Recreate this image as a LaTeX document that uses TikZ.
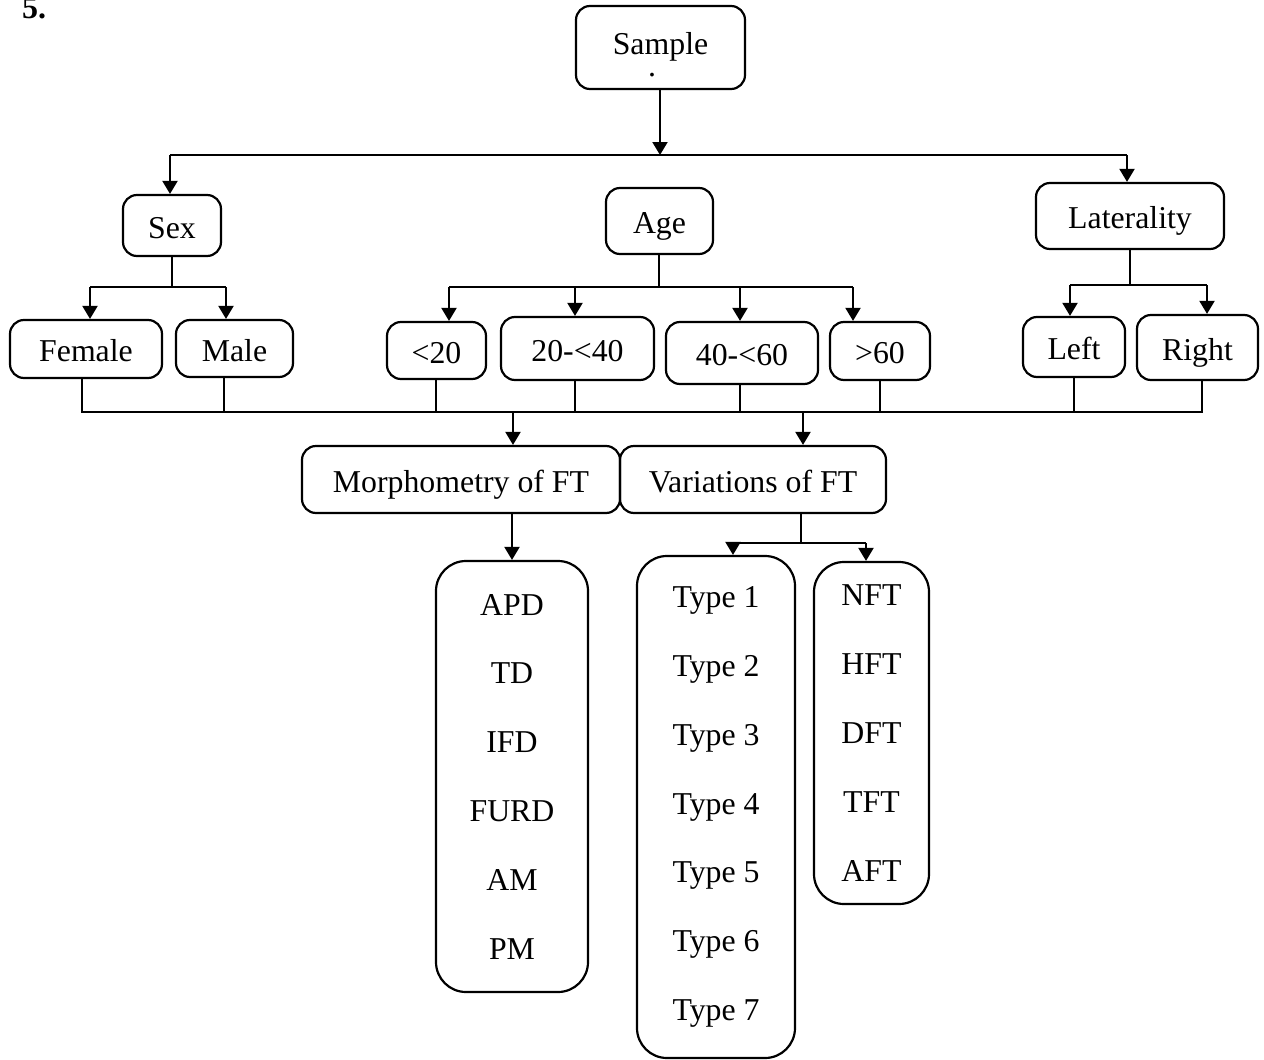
\documentclass[tikz,border=0pt]{standalone}
\usepackage{fontspec}
\setmainfont{Liberation Serif}
\usetikzlibrary{arrows.meta}
\begin{document}
\begin{tikzpicture}[x=1pt,y=-1pt,
  box/.style={draw, line width=2.2pt, rounded corners=14pt, inner sep=0pt, align=center,
     text height=25pt, text depth=0pt, font=\fontsize{31.8}{38}\selectfont},
  listbox/.style={draw, line width=2.2pt, rounded corners=30pt, inner sep=0pt, align=center,
     font=\fontsize{31.8}{68.8}\selectfont},
  ln/.style={line width=2pt},
  arr/.style={line width=2pt, -{Triangle[length=13pt,width=15pt]}}]
\useasboundingbox (0,0) rectangle (1264,1060);
\node[font=\bfseries\fontsize{32}{38}\selectfont, anchor=base west, inner sep=0pt] (num) at (22,19) {5.};
% top
\node[box, minimum width=169pt, minimum height=83pt, text height=22pt, text depth=9pt] (sample) at (660.5,47.5) {Sample};
\node[anchor=base, inner sep=0pt, font=\fontsize{31.8}{38}\selectfont] (sdot) at (652,76) {.};
\node[box, minimum width=98pt, minimum height=61pt] (sex) at (172,225.5) {Sex};
\node[box, minimum width=107pt, minimum height=66pt] (age) at (659.5,221) {Age};
\node[box, minimum width=188pt, minimum height=66pt] (lat) at (1130,216) {Laterality};
% second level
\node[box, minimum width=152pt, minimum height=58pt] (female) at (86,349) {Female};
\node[box, minimum width=117pt, minimum height=57pt] (male) at (234.5,348.5) {Male};
\node[box, minimum width=99pt, minimum height=57pt] (lt20) at (436.5,350.5) {<20};
\node[box, minimum width=153pt, minimum height=63pt] (a2040) at (577.5,348.5) {20-<40};
\node[box, minimum width=152pt, minimum height=62pt] (a4060) at (742,353) {40-<60};
\node[box, minimum width=100pt, minimum height=58pt] (gt60) at (880,351) {>60};
\node[box, minimum width=102pt, minimum height=60pt] (left) at (1074,347) {Left};
\node[box, minimum width=121pt, minimum height=65pt] (right) at (1197.5,347.5) {Right};
% third level
\node[box, minimum width=318pt, minimum height=67pt] (morph) at (461,479.5) {Morphometry of FT};
\node[box, minimum width=266pt, minimum height=67pt] (var) at (753,479.5) {Variations of FT};
% lists
\node[listbox, minimum width=152pt, minimum height=431pt] (apd) at (512,776.5)
  {APD\\TD\\IFD\\FURD\\AM\\PM};
\node[listbox, minimum width=158pt, minimum height=502pt] (types) at (716,807)
  {Type 1\\Type 2\\Type 3\\Type 4\\Type 5\\Type 6\\Type 7};
\node[listbox, minimum width=115pt, minimum height=342pt] (nft) at (871.5,733)
  {NFT\\HFT\\DFT\\TFT\\AFT};
% bus coordinates
\coordinate (busTop) at (0,155);
\coordinate (busSex) at (0,287);
\coordinate (busAge) at (0,287);
\coordinate (busLat) at (0,285);
\coordinate (busBot) at (0,412);
\coordinate (busVar) at (0,543);
% top connectors
\draw[arr] ([xshift=-0.5pt]sample.south) -- ([xshift=-0.5pt]sample.south |- busTop);
\draw[ln] ([xshift=-2pt]sex.north |- busTop) -- ([xshift=-3pt]lat.north |- busTop);
\draw[arr] ([xshift=-2pt]sex.north |- busTop) -- ([xshift=-2pt]sex.north);
\draw[arr] ([xshift=-3pt]lat.north |- busTop) -- ([xshift=-3pt]lat.north);
% sex
\draw[ln] (sex.south) -- (sex.south |- busSex);
\draw[ln] ([xshift=4pt]female.north |- busSex) -- ([xshift=-8.5pt]male.north |- busSex);
\draw[arr] ([xshift=4pt]female.north |- busSex) -- ([xshift=4pt]female.north);
\draw[arr] ([xshift=-8.5pt]male.north |- busSex) -- ([xshift=-8.5pt]male.north);
% age
\draw[ln] ([xshift=-0.5pt]age.south) -- ([xshift=-0.5pt]age.south |- busAge);
\draw[ln] ([xshift=12.5pt]lt20.north |- busAge) -- ([xshift=-27pt]gt60.north |- busAge);
\draw[arr] ([xshift=12.5pt]lt20.north |- busAge) -- ([xshift=12.5pt]lt20.north);
\draw[arr] ([xshift=-2.5pt]a2040.north |- busAge) -- ([xshift=-2.5pt]a2040.north);
\draw[arr] ([xshift=-2pt]a4060.north |- busAge) -- ([xshift=-2pt]a4060.north);
\draw[arr] ([xshift=-27pt]gt60.north |- busAge) -- ([xshift=-27pt]gt60.north);
% laterality
\draw[ln] (lat.south) -- (lat.south |- busLat);
\draw[ln] ([xshift=-4pt]left.north |- busLat) -- ([xshift=9.5pt]right.north |- busLat);
\draw[arr] ([xshift=-4pt]left.north |- busLat) -- ([xshift=-4pt]left.north);
\draw[arr] ([xshift=9.5pt]right.north |- busLat) -- ([xshift=9.5pt]right.north);
% bottom bus
\draw[ln] ([xshift=-4pt]female.south) -- ([xshift=-4pt]female.south |- busBot)
  -- ([xshift=4.5pt]right.south |- busBot) -- ([xshift=4.5pt]right.south);
\draw[ln] ([xshift=-10.5pt]male.south) -- ([xshift=-10.5pt]male.south |- busBot);
\draw[ln] ([xshift=-0.5pt]lt20.south) -- ([xshift=-0.5pt]lt20.south |- busBot);
\draw[ln] ([xshift=-2.5pt]a2040.south) -- ([xshift=-2.5pt]a2040.south |- busBot);
\draw[ln] ([xshift=-2pt]a4060.south) -- ([xshift=-2pt]a4060.south |- busBot);
\draw[ln] (gt60.south) -- (gt60.south |- busBot);
\draw[ln] (left.south) -- (left.south |- busBot);
\draw[arr] ([xshift=52pt]morph.north |- busBot) -- ([xshift=52pt]morph.north);
\draw[arr] ([xshift=50pt]var.north |- busBot) -- ([xshift=50pt]var.north);
% lower
\draw[arr] (apd.north |- morph.south) -- (apd.north);
\draw[ln] ([xshift=48pt]var.south) -- ([xshift=48pt]var.south |- busVar);
\draw[ln] ([xshift=17pt]types.north |- busVar) -- ([xshift=-5.5pt]nft.north |- busVar);
\draw[arr] ([xshift=17pt]types.north |- busVar) -- ([xshift=17pt]types.north);
\draw[arr] ([xshift=-5.5pt]nft.north |- busVar) -- ([xshift=-5.5pt]nft.north);
\end{tikzpicture}
\end{document}
